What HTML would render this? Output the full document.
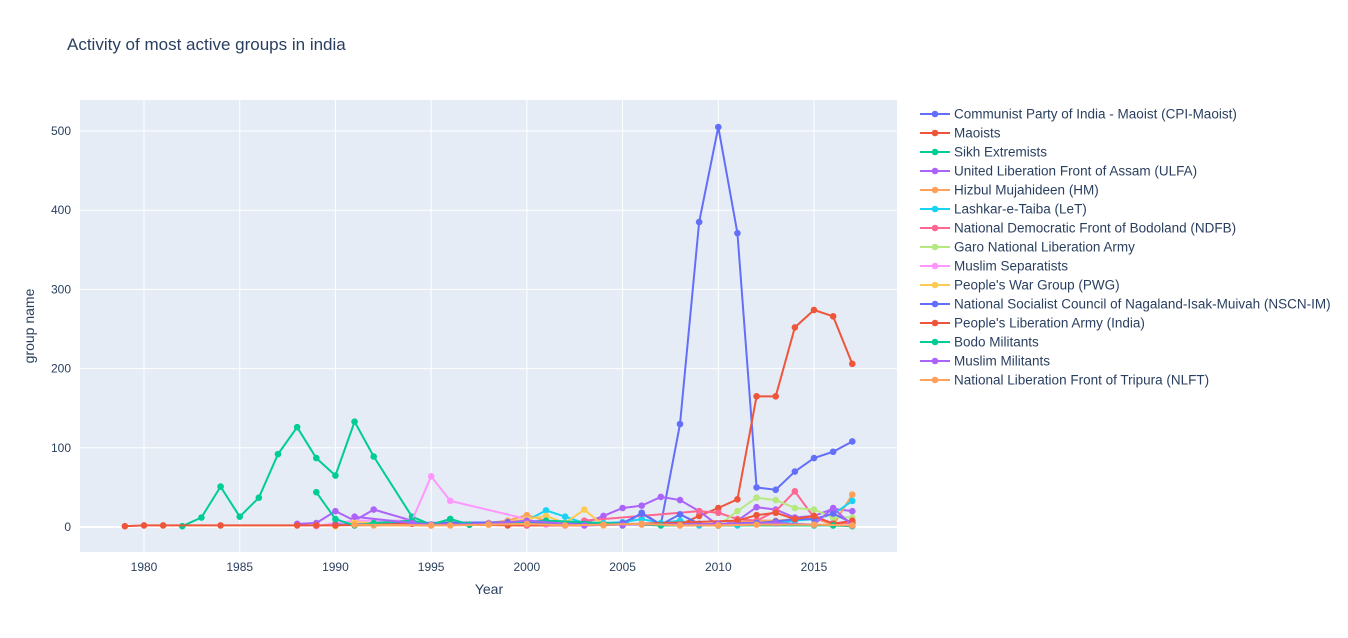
<!DOCTYPE html>
<html><head><meta charset="utf-8"><style>
body{margin:0;background:#fff;font-family:"Liberation Sans",sans-serif}
svg text{font-family:"Liberation Sans",sans-serif;fill:#2a3f5f}
</style></head><body>
<svg id="chart" width="1348" height="633">
<text x="67" y="50" font-size="17">Activity of most active groups in india</text>
<rect x="80" y="100" width="817" height="452" fill="#e5ecf6"/>
<g id="grid"></g><g id="series"></g><g id="legend"></g>
<text x="489" y="594" font-size="14" text-anchor="middle">Year</text>
<text x="34" y="326" font-size="14" text-anchor="middle" transform="rotate(-90 34 326)">group name</text>
</svg>
<script>
const names=["Communist Party of India - Maoist (CPI-Maoist)","Maoists","Sikh Extremists","United Liberation Front of Assam (ULFA)","Hizbul Mujahideen (HM)","Lashkar-e-Taiba (LeT)","National Democratic Front of Bodoland (NDFB)","Garo National Liberation Army","Muslim Separatists","People's War Group (PWG)","National Socialist Council of Nagaland-Isak-Muivah (NSCN-IM)","People's Liberation Army (India)","Bodo Militants","Muslim Militants","National Liberation Front of Tripura (NLFT)"];
const colors=["#636efa","#EF553B","#00cc96","#ab63fa","#FFA15A","#19d3f3","#FF6692","#B6E880","#FF97FF","#FECB52","#636efa","#EF553B","#00cc96","#ab63fa","#FFA15A"];
const years=[[2005,2006,2007,2008,2009,2010,2011,2012,2013,2014,2015,2016,2017],
[2008,2009,2010,2011,2012,2013,2014,2015,2016,2017],
[1982,1983,1984,1985,1986,1987,1988,1989,1990,1991,1992,1994,1995,1996,1997,2000],
[1988,1989,1990,1991,1992,1994,1995,1996,1998,2000,2002,2003,2004,2005,2006,2007,2008,2009,2010,2011,2012,2013,2014,2015,2016,2017],
[1991,1992,1995,1996,1998,1999,2000,2001,2002,2003,2004,2005,2006,2007,2008,2009,2010,2011,2012,2013,2014,2015,2016,2017],
[1996,1998,1999,2000,2001,2002,2003,2004,2005,2006,2007,2008,2009,2010,2011,2012,2013,2014,2015,2016,2017],
[1994,1995,1996,2000,2002,2003,2009,2010,2011,2012,2013,2014,2015,2016,2017],
[2010,2011,2012,2013,2014,2015,2016,2017],
[1989,1990,1991,1994,1995,1996,2000,2001,2002],
[1990,1991,1995,1998,2000,2001,2002,2003,2004,2005],
[1990,1994,1999,2003,2005,2006,2007,2008,2009,2010,2011,2012,2013,2014,2015,2016,2017],
[1979,1980,1981,1984,1988,1989,1990,1994,1997,1999,2003,2011,2012,2013,2014,2015,2016,2017],
[1989,1990,1991,1992,1994,1995,1996,1997,2001,2007,2010,2015,2016,2017],
[1991,1994,1995,1998,2000,2003,2005,2010,2013,2015,2016,2017],
[1991,1995,1996,1998,2000,2002,2004,2006,2008,2010,2012,2015,2017]];
const vals=[[2,18,3,130,385,505,371,50,47,70,87,95,108],
[3,14,24,35,165,165,252,274,266,206],
[1,12,51,13,37,92,126,87,65,133,89,13,3,10,3,4],
[4,5,20,8,22,8,3,3,5,2,3,5,14,24,27,38,34,20,2,8,25,22,12,14,23,20],
[2,2,2,6,5,8,15,8,3,5,2,4,3,2,2,2,2,6,8,8,10,12,2,41],
[5,4,5,8,21,13,5,5,6,10,5,8,2,2,2,5,5,8,10,16,33],
[5,3,4,2,2,8,20,18,10,8,20,45,12,5,5],
[2,20,37,34,24,22,12,12],
[1,5,8,8,64,33,10,3,2],
[1,6,2,3,10,14,5,22,2,4],
[3,5,6,4,5,17,3,16,4,2,5,5,7,10,10,17,5],
[1,2,2,2,2,2,2,4,3,2,2,8,15,18,10,14,4,8],
[44,10,2,5,8,3,10,3,8,2,2,2,2,1],
[13,5,3,4,8,2,3,4,5,3,24,2],
[3,2,2,3,4,2,3,4,2,2,3,3,2]];
const xTicks=[1980,1985,1990,1995,2000,2005,2010,2015];
const yTicks=[0,100,200,300,400,500];
const X=y=>144+(y-1980)*19.143, Y=v=>527-v*0.792;
const NS="http://www.w3.org/2000/svg";
function mk(t,a,p){const e=document.createElementNS(NS,t);for(const k in a)e.setAttribute(k,a[k]);p.appendChild(e);return e;}
const grid=document.getElementById('grid');
xTicks.forEach(t=>{const l=mk('line',{x1:X(t),x2:X(t),y1:100,y2:552,stroke:'#fff','stroke-width':1},grid);


const tx=mk('text',{x:X(t),y:571,'font-size':12,'text-anchor':'middle'},grid);tx.textContent=t;

});
yTicks.forEach(t=>{const l=mk('line',{x1:80,x2:897,y1:Y(t),y2:Y(t),stroke:'#fff','stroke-width':t===0?2:1},grid);


const tx=mk('text',{x:71,y:Y(t)+4,'font-size':12,'text-anchor':'end'},grid);tx.textContent=t;

});
const sg=document.getElementById('series'),lg=document.getElementById('legend');
names.forEach((n,i)=>{
const g=mk('g',{},sg);


const pts=years[i].map((y,j)=>X(y)+','+Y(vals[i][j])).join(' ');
mk('polyline',{points:pts,fill:'none',stroke:colors[i],'stroke-width':2,'stroke-linejoin':'round'},g);
years[i].forEach((y,j)=>{const c=mk('circle',{cx:X(y),cy:Y(vals[i][j]),r:3.3,fill:colors[i]},g);

});
const ly=114+i*19;
const le=mk('g',{},lg);


mk('line',{x1:920,x2:950,y1:ly,y2:ly,stroke:colors[i],'stroke-width':2},le);
mk('circle',{cx:935,cy:ly,r:3.3,fill:colors[i]},le);
const t=mk('text',{x:954,y:ly+4.5,'font-size':13.5},le);t.textContent=n;
});
</script>
</body></html>
